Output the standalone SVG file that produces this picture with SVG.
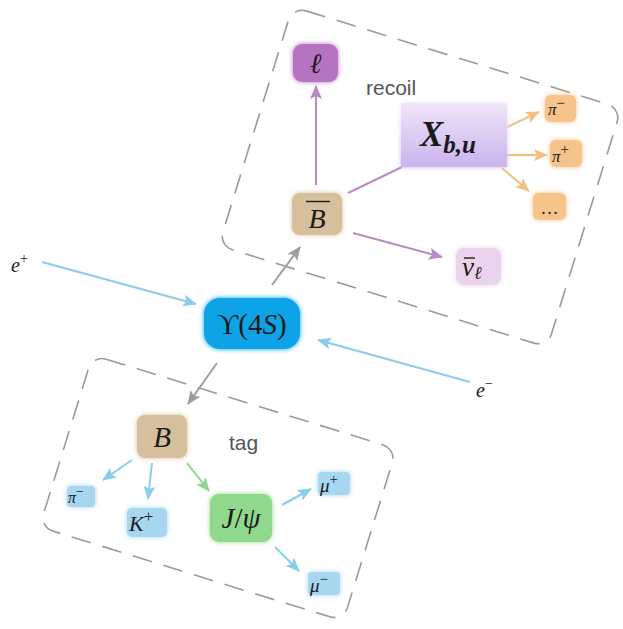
<svg xmlns="http://www.w3.org/2000/svg" width="623" height="629" viewBox="0 0 623 629">
<style>
.frame{fill:none;stroke:#9a9a9a;stroke-width:1.6;stroke-dasharray:20 12}
.m{font-family:"Liberation Serif","DejaVu Serif",serif;fill:#1a1a1a}
.i{font-style:italic}
.u{font-style:normal}
.lbl{font-family:"Liberation Sans","Helvetica",sans-serif;font-size:21px;fill:#555}
.e{fill:none;stroke-width:2}
.pur{stroke:#b98ac6}
.gry{stroke:#a39d97}
.blu{stroke:#88cde9}
.grn{stroke:#8fd391}
.org{stroke:#f3c07f}
</style>
<defs>
<filter id="glow" x="-30%" y="-30%" width="160%" height="160%">
<feGaussianBlur in="SourceGraphic" stdDeviation="2.5" result="b"/>
<feMerge><feMergeNode in="b"/><feMergeNode in="SourceGraphic"/></feMerge>
</filter>
<linearGradient id="xg" x1="0" y1="0" x2="0" y2="1">
<stop offset="0" stop-color="#efe6f9"/>
<stop offset="1" stop-color="#c9b3ec"/>
</linearGradient>
<marker id="aP" markerUnits="userSpaceOnUse" markerWidth="16" markerHeight="14" refX="13" refY="6" orient="auto"><path d="M0,0 L14,6 L0,12 L3,6 Z" fill="#b98ac6"/></marker>
<marker id="aG" markerUnits="userSpaceOnUse" markerWidth="16" markerHeight="14" refX="13" refY="6" orient="auto"><path d="M0,0 L14,6 L0,12 L3,6 Z" fill="#a39d97"/></marker>
<marker id="aB" markerUnits="userSpaceOnUse" markerWidth="16" markerHeight="14" refX="13" refY="6" orient="auto"><path d="M0,0 L14,6 L0,12 L3,6 Z" fill="#88cde9"/></marker>
<marker id="aN" markerUnits="userSpaceOnUse" markerWidth="16" markerHeight="14" refX="13" refY="6" orient="auto"><path d="M0,0 L14,6 L0,12 L3,6 Z" fill="#8fd391"/></marker>
<marker id="aO" markerUnits="userSpaceOnUse" markerWidth="16" markerHeight="14" refX="13" refY="6" orient="auto"><path d="M0,0 L14,6 L0,12 L3,6 Z" fill="#f3c07f"/></marker>
</defs>

<g id="recoil-frame"><rect class="frame" x="-172" y="-125" width="344" height="250" rx="14" transform="translate(420,177) rotate(17.2)"/>
<text class="lbl" x="366" y="95">recoil</text></g>
<g id="tag-frame"><rect class="frame" x="-159" y="-90" width="318" height="180" rx="14" transform="translate(218,488) rotate(17.2)"/>
<text class="lbl" x="229" y="450">tag</text></g>

<g id="connectors">
<line class="e pur" x1="316" y1="185" x2="316" y2="86" marker-end="url(#aP)"/>
<line class="e pur" x1="348" y1="193" x2="402" y2="167"/>
<line class="e pur" x1="353" y1="233" x2="442" y2="257" marker-end="url(#aP)"/>
<line class="e org" x1="507" y1="127" x2="539" y2="112" marker-end="url(#aO)"/>
<line class="e org" x1="507" y1="155" x2="547" y2="155" marker-end="url(#aO)"/>
<line class="e org" x1="502" y1="168" x2="529" y2="191" marker-end="url(#aO)"/>
<line class="e gry" x1="272" y1="285" x2="300" y2="247" marker-end="url(#aG)"/>
<line class="e blu" x1="42" y1="262" x2="196" y2="304" marker-end="url(#aB)"/>
<line class="e blu" x1="470" y1="382" x2="318" y2="340" marker-end="url(#aB)"/>
<line class="e gry" x1="217" y1="363" x2="188" y2="404" marker-end="url(#aG)"/>
<line class="e blu" x1="132" y1="460" x2="103" y2="480" marker-end="url(#aB)"/>
<line class="e blu" x1="152" y1="463" x2="148" y2="499" marker-end="url(#aB)"/>
<line class="e grn" x1="187" y1="463" x2="209" y2="491" marker-end="url(#aN)"/>
<line class="e blu" x1="282" y1="505" x2="311" y2="489" marker-end="url(#aB)"/>
<line class="e blu" x1="275" y1="547" x2="299" y2="571" marker-end="url(#aB)"/>
</g>

<g id="ups"><rect x="204" y="298" width="96" height="51" rx="16" fill="#0ea3e6" filter="url(#glow)"/>
<text class="m" x="252" y="334" font-size="29" text-anchor="middle">ϒ(4<tspan class="i">S</tspan>)</text></g>

<g id="ell"><rect x="293" y="44" width="45" height="38" rx="9" fill="#b673c2" filter="url(#glow)"/>
<text class="m i" x="315.5" y="73" font-size="28" text-anchor="middle">ℓ</text></g>

<g id="bbar"><rect x="292" y="193" width="50" height="42" rx="8" fill="#d6bf9c" filter="url(#glow)"/>
<line x1="306" y1="201.5" x2="330" y2="201.5" stroke="#1a1a1a" stroke-width="1.4"/>
<text class="m i" x="317" y="228" font-size="28" text-anchor="middle">B</text></g>

<g id="xbu"><rect x="401" y="103" width="106" height="64" fill="url(#xg)" filter="url(#glow)"/>
<text class="m i" x="420" y="146" font-size="35" font-weight="bold">X<tspan font-size="25" dy="7">b,u</tspan></text></g>

<g id="piminus-r"><rect x="545" y="95" width="31" height="27" rx="6" fill="#f6c38b" filter="url(#glow)"/>
<text class="m i" x="548" y="115" font-size="17">π<tspan class="u" font-size="15" dy="-7">−</tspan></text></g>
<g id="piplus-r"><rect x="550" y="140" width="32" height="27" rx="6" fill="#f6c38b" filter="url(#glow)"/>
<text class="m i" x="552" y="162" font-size="17">π<tspan class="u" font-size="15" dy="-8">+</tspan></text></g>
<g id="dots"><rect x="533" y="193" width="33" height="27" rx="6" fill="#f6c38b" filter="url(#glow)"/>
<text class="m" x="549.5" y="214" font-size="18" text-anchor="middle">…</text></g>

<g id="nubar"><rect x="456" y="248" width="45" height="37" rx="8" fill="#ead3ec" filter="url(#glow)"/>
<line x1="464" y1="258" x2="475" y2="258" stroke="#1a1a1a" stroke-width="1.4"/>
<text class="m i" x="462" y="276" font-size="27">ν<tspan font-size="18" dy="3">ℓ</tspan></text></g>

<g id="eplus"><text class="m i" x="11" y="272" font-size="20">e<tspan class="u" font-size="14" dy="-9">+</tspan></text></g>
<g id="eminus"><text class="m i" x="476" y="397" font-size="20">e<tspan class="u" font-size="14" dy="-9">−</tspan></text></g>

<g id="b"><rect x="137" y="415" width="50" height="43" rx="8" fill="#d6bf9c" filter="url(#glow)"/>
<text class="m i" x="162" y="447" font-size="29" text-anchor="middle">B</text></g>

<g id="piminus-t"><rect x="67" y="486" width="28" height="21" rx="4" fill="#a6d6f0" filter="url(#glow)"/>
<text class="m i" x="68" y="503" font-size="16">π<tspan class="u" font-size="14" dy="-7">−</tspan></text></g>
<g id="kplus"><rect x="127" y="508" width="40" height="29" rx="5" fill="#a6d6f0" filter="url(#glow)"/>
<text class="m i" x="129" y="531" font-size="22">K<tspan class="u" font-size="17" dy="-9">+</tspan></text></g>
<g id="jpsi"><rect x="210" y="494" width="62" height="48" rx="9" fill="#90d88b" filter="url(#glow)"/>
<text class="m i" x="241" y="528" font-size="29" text-anchor="middle">J<tspan class="u">/</tspan>ψ</text></g>
<g id="muplus"><rect x="318" y="472" width="32" height="23" rx="4" fill="#a6d6f0" filter="url(#glow)"/>
<text class="m i" x="320" y="492" font-size="19">μ<tspan class="u" font-size="15" dy="-8">+</tspan></text></g>
<g id="muminus"><rect x="308" y="572" width="32" height="23" rx="4" fill="#a6d6f0" filter="url(#glow)"/>
<text class="m i" x="310" y="592" font-size="19">μ<tspan class="u" font-size="15" dy="-8">−</tspan></text></g>
</svg>
